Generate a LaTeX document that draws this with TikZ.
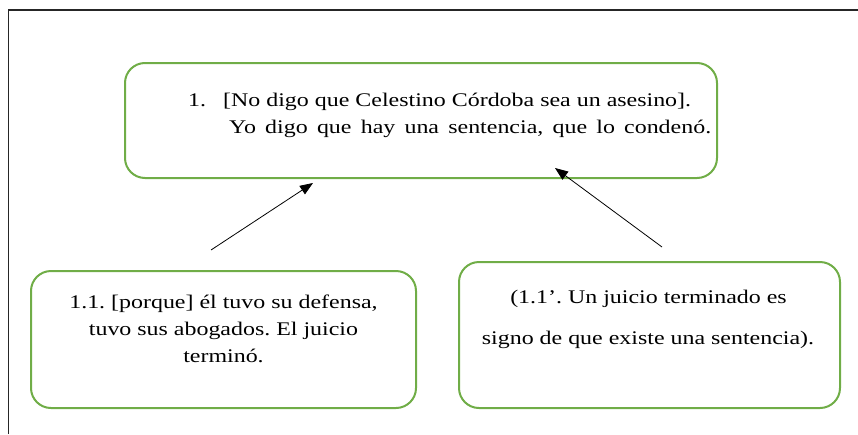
\documentclass[tikz,border=0pt]{standalone}
\usepackage{fontspec}
\setmainfont{Liberation Serif}[FakeStretch=1.24]
\usetikzlibrary{arrows.meta}
\definecolor{boxgreen}{RGB}{112,173,71}
\frenchspacing
\begin{document}
\begin{tikzpicture}[x=1pt,y=-1pt,
  gbox/.style={draw=boxgreen, line width=2pt, rounded corners=20pt, inner sep=0pt},
  txt/.style={inner sep=0pt, font=\fontsize{19.3pt}{27pt}\selectfont},
  arr/.style={line width=0.8pt, -{Triangle[length=13pt,width=10pt]}}]
\useasboundingbox (0,0) rectangle (858,434);
% outer frame (top and left only)
\draw[line width=1.5pt, black!85] (8.5,434) -- (8.5,10) -- (858,10);
% boxes
\node[gbox, minimum width=592pt, minimum height=115pt] (main) at (421,120.5) {};
\node[gbox, minimum width=385pt, minimum height=137pt] (left) at (223.5,339.5) {};
\node[gbox, minimum width=381pt, minimum height=146pt] (right) at (649.5,335) {};
% texts
\node[txt, anchor=base west] (m1) at (188,106) {1.\hspace{17pt}\makebox[468pt][s]{[No digo que Celestino Córdoba sea un asesino].}};
\node[txt, anchor=base west] (m2) at (229,133) {\makebox[482pt][s]{Yo digo que hay una sentencia, que lo condenó.}};
\node[txt, anchor=base] (l1) at (223.5,308) {1.1. [porque] él tuvo su defensa,};
\node[txt, anchor=base] (l2) at (223.5,335) {tuvo sus abogados. El juicio};
\node[txt, anchor=base] (l3) at (223.5,362) {terminó.};
\node[txt, anchor=base] (r1) at (648.5,303) {(1.1’. Un juicio terminado es};
\node[txt, anchor=base] (r2) at (648,344) {signo de que existe una sentencia).};
% arrows
\coordinate (a1s) at (211,250);
\coordinate (a1e) at (313,183);
\coordinate (a2s) at (662,247);
\coordinate (a2e) at (555,168);
\draw[arr] (a1s) -- (a1e);
\draw[arr] (a2s) -- (a2e);
\end{tikzpicture}
\end{document}
